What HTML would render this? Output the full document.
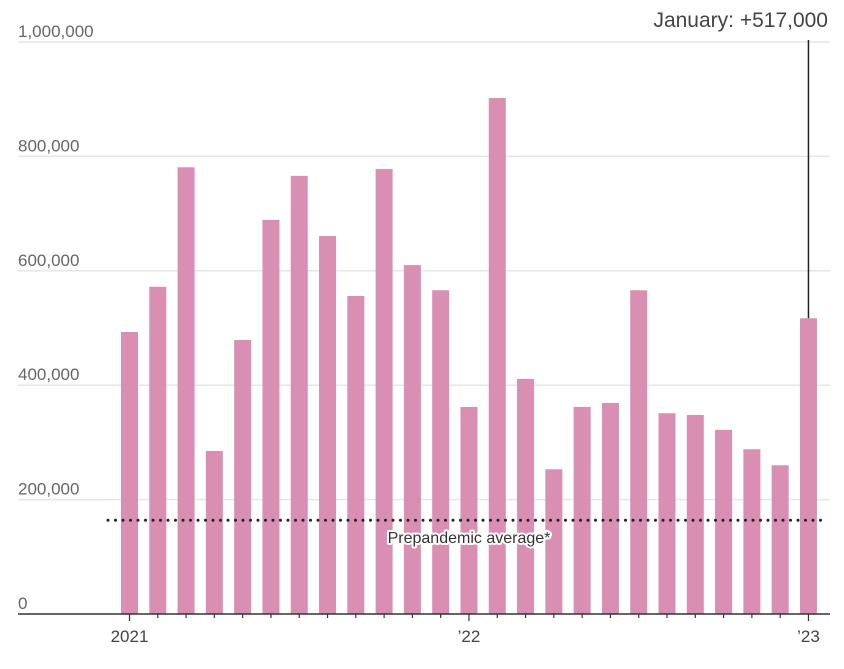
<!DOCTYPE html>
<html><head><meta charset="utf-8"><style>
body{margin:0;background:#fff;font-family:"Liberation Sans",sans-serif}
svg text{font-family:"Liberation Sans",sans-serif}
</style></head><body>
<svg id="c" width="844" height="664" viewBox="0 0 844 664"></svg>
<script>
const months=["Jan21","Feb21","Mar21","Apr21","May21","Jun21","Jul21","Aug21","Sep21","Oct21","Nov21","Dec21","Jan22","Feb22","Mar22","Apr22","May22","Jun22","Jul22","Aug22","Sep22","Oct22","Nov22","Dec22","Jan23"];
const values=[493,572,781,285,479,689,766,661,556,778,610,566,362,902,411,253,362,369,566,351,348,322,288,260,517];
const yTicks=[0,200,400,600,800,1000];
const yTickLabels=["0","200,000","400,000","600,000","800,000","1,000,000"];
const prepandemicAvg=164;
const xLabels=[[0,"2021"],[12,"\u201922"],[24,"\u201923"]];
const NS="http://www.w3.org/2000/svg";
const svg=document.getElementById('c');
function y(v){return 614-v*0.572;}
function x(i){return 129.5+i*28.29;}
function mk(t,a,p){const e=document.createElementNS(NS,t);for(const k in a)e.setAttribute(k,a[k]);(p||svg).appendChild(e);return e;}
yTicks.forEach((t,i)=>{
 if(t>0){const g=mk('line',{x1:18,x2:830,y1:y(t),y2:y(t),stroke:'#e6e6e6','stroke-width':1.5});
 
 }
 const tx=mk('text',{x:18,y:y(t)-5,'font-size':17,fill:'#666'});
 
 
 tx.textContent=yTickLabels[i];
});
values.forEach((v,i)=>{
 const b=mk('rect',{x:x(i)-8.5,y:y(v),width:17,height:614-y(v),fill:'#d88fb1'});
 
 
 const tk=mk('line',{x1:x(i),x2:x(i),y1:614,y2:xLabels.some(l=>l[0]===i)?621:618,stroke:'#333','stroke-width':1.2});
 
 
});
const ax=mk('line',{x1:18,x2:830,y1:614,y2:614,stroke:'#333','stroke-width':1.5});


xLabels.forEach(l=>{
 const t=mk('text',{x:x(l[0]),y:642,'font-size':17,fill:'#444','text-anchor':'middle'});
 
 
 t.textContent=l[1];
});
const pl=mk('line',{x1:108,x2:826,y1:y(prepandemicAvg),y2:y(prepandemicAvg),stroke:'#222','stroke-width':3,'stroke-dasharray':'0 7.5','stroke-linecap':'round'});


const plt=mk('text',{x:469,y:y(prepandemicAvg)+23,'font-size':16,fill:'#333','text-anchor':'middle',stroke:'#fff','stroke-width':4,'paint-order':'stroke','stroke-linejoin':'round'});


plt.textContent='Prepandemic average*';
const last=values.length-1;
const al=mk('line',{x1:x(last),x2:x(last),y1:40,y2:y(values[last]),stroke:'#222','stroke-width':1.5});


const at=mk('text',{x:828,y:27,'font-size':21,fill:'#444','text-anchor':'end'});


at.textContent='January: +517,000';
</script>
</body></html>
